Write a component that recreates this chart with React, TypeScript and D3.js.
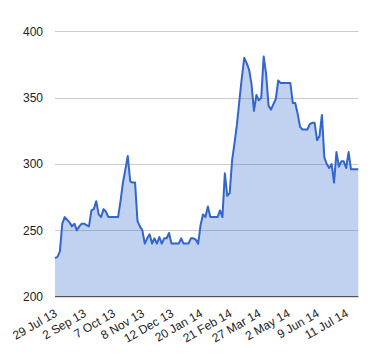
import React, { useEffect, useRef } from "react";
import * as d3 from "d3";

const values: number[] = [
  229, 230, 234, 255, 260, 258, 256, 253, 255, 250,
  253, 255, 255, 254, 253, 265, 266, 272, 262, 260,
  266, 264, 260, 260, 260, 260, 260, 272, 286, 296,
  306, 287, 286, 286, 257, 253, 250, 240, 244, 247,
  240, 244, 240, 245, 240, 244, 244, 248, 240, 240,
  240, 240, 244, 240, 240, 240, 244, 244, 243, 240,
  254, 262, 260, 268, 260, 260, 260, 260, 265, 260,
  293, 276, 278, 303, 316, 330, 348, 365, 380, 376,
  371, 360, 340, 352, 348, 350, 381, 368, 344, 341,
  345, 349, 363, 361, 361, 361, 361, 361, 346, 346,
  338, 328, 326, 326, 326, 330, 331, 331, 318, 321,
  337, 305, 300, 297, 300, 286, 309, 298, 302, 302,
  297, 309, 296, 296, 296, 296,
];

const tickLabels: string[] = [
  "29 Jul 13", "2 Sep 13", "7 Oct 13", "8 Nov 13", "12 Dec 13", "20 Jan 14",
  "21 Feb 14", "27 Mar 14", "2 May 14", "9 Jun 14", "11 Jul 14",
];
const labelStep = 12;
const yTicks: number[] = [200, 250, 300, 350, 400];

export default function App() {
  const ref = useRef<SVGSVGElement | null>(null);

  useEffect(() => {
    const svg = d3.select(ref.current);
    svg.selectAll("*").remove();
    const left = 55, right = 358.3, top = 31.3, bottom = 296.7;
    const x = d3.scaleLinear().domain([0, values.length - 1]).range([left, right]);
    const y = d3.scaleLinear().domain([200, 400]).range([bottom, top]);
    const font = "Arial, 'Liberation Sans', sans-serif";

    const g = svg.append("g");
    g.selectAll("line.grid")
      .data(yTicks.filter((t) => t !== 200))
      .join("line")
      .attr("x1", left)
      .attr("x2", right)
      .attr("y1", (d) => Math.round(y(d)) + 0.5)
      .attr("y2", (d) => Math.round(y(d)) + 0.5)
      .attr("stroke", "#cccccc")
      .attr("stroke-width", 1);

    g.selectAll("text.ylab")
      .data(yTicks)
      .join("text")
      .attr("x", 43)
      .attr("y", (d) => y(d) + 4.3)
      .attr("text-anchor", "end")
      .attr("font-family", font)
      .attr("font-size", 12)
      .attr("fill", "#222")
      .text((d) => String(d));

    const area = d3
      .area<number>()
      .x((_, i) => x(i))
      .y0(bottom)
      .y1((d) => y(d));
    g.append("path")
      .datum(values)
      .attr("d", area)
      .attr("fill", "#3366cc")
      .attr("fill-opacity", 0.3);

    const line = d3
      .line<number>()
      .x((_, i) => x(i))
      .y((d) => y(d));
    g.append("path")
      .datum(values)
      .attr("d", line)
      .attr("fill", "none")
      .attr("stroke", "#3366cc")
      .attr("stroke-width", 2)
      .attr("stroke-linejoin", "round");

    g.append("line")
      .attr("x1", left)
      .attr("x2", right)
      .attr("y1", bottom)
      .attr("y2", bottom)
      .attr("stroke", "#333333")
      .attr("stroke-width", 1);

    g.selectAll("text.xlab")
      .data(tickLabels)
      .join("text")
      .attr("transform", (_, i) => `translate(${x(i * labelStep) + 3},${bottom + 19}) rotate(-30)`)
      .attr("text-anchor", "end")
      .attr("font-family", font)
      .attr("font-size", 12)
      .attr("fill", "#222")
      .text((d) => d);
  }, []);

  return (
    <svg
      ref={ref}
      width={380}
      height={360}
      style={{ position: "absolute", left: 0, top: 0, background: "#fff" }}
    />
  );
}
